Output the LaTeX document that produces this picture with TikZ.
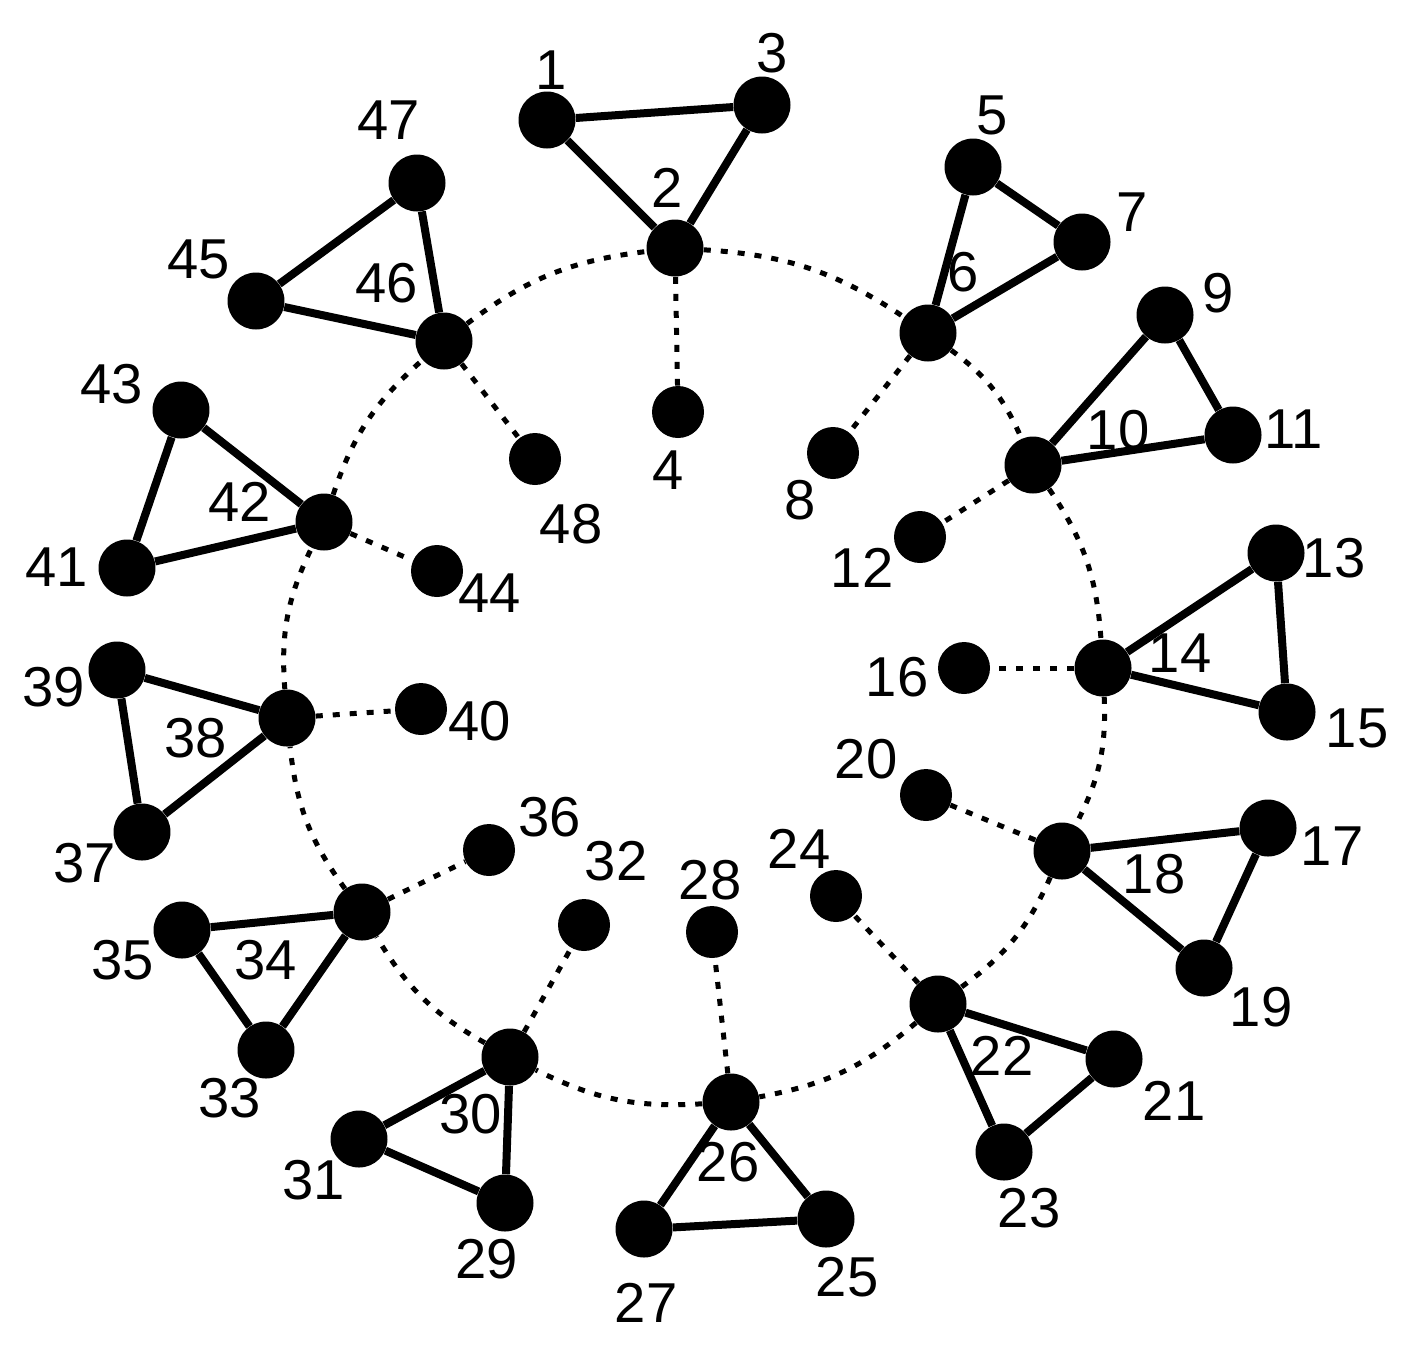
\documentclass[tikz,border=0pt]{standalone}
\usepackage{fontspec}
\setmainfont{Liberation Sans}

\begin{document}
\begin{tikzpicture}
  [x=0.02cm,y=-0.02cm,
   bigN/.style={circle,fill=black,inner sep=0pt,minimum size=1.14cm},
   smallN/.style={circle,fill=black,inner sep=0pt,minimum size=1.04cm},
   numL/.style={inner sep=0pt,font=\fontsize{32}{38}\selectfont},
   triE/.style={line width=0.16cm},
   dotE/.style={line width=0.1cm,dash pattern=on 0.14cm off 0.2cm}]

  \useasboundingbox (0,0) rectangle (1405,1367);

  % hubs on the ring
  \node[bigN] (n2)  at (675,248)  {};
  \node[bigN] (n6)  at (928,333)  {};
  \node[bigN] (n10) at (1033,465) {};
  \node[bigN] (n14) at (1103,668) {};
  \node[bigN] (n18) at (1062,851) {};
  \node[bigN] (n22) at (938,1004) {};
  \node[bigN] (n26) at (731,1102) {};
  \node[bigN] (n30) at (510,1057) {};
  \node[bigN] (n34) at (362,912)  {};
  \node[bigN] (n38) at (287,718)  {};
  \node[bigN] (n42) at (324,522)  {};
  \node[bigN] (n46) at (444,341)  {};

  % outer corners
  \node[bigN] (n1)  at (547,120)  {};
  \node[bigN] (n3)  at (762,105)  {};
  \node[bigN] (n5)  at (973,167)  {};
  \node[bigN] (n7)  at (1082,242) {};
  \node[bigN] (n9)  at (1165,315) {};
  \node[bigN] (n11) at (1233,435) {};
  \node[bigN] (n13) at (1276,553) {};
  \node[bigN] (n15) at (1287,712) {};
  \node[bigN] (n17) at (1268,828) {};
  \node[bigN] (n19) at (1204,968) {};
  \node[bigN] (n21) at (1114,1059) {};
  \node[bigN] (n23) at (1004,1152) {};
  \node[bigN] (n25) at (826,1219) {};
  \node[bigN] (n27) at (644,1229) {};
  \node[bigN] (n29) at (505,1203) {};
  \node[bigN] (n31) at (359,1139) {};
  \node[bigN] (n33) at (266,1050) {};
  \node[bigN] (n35) at (182,930)  {};
  \node[bigN] (n37) at (142,832)  {};
  \node[bigN] (n39) at (117,670)  {};
  \node[bigN] (n41) at (127,568)  {};
  \node[bigN] (n43) at (181,410)  {};
  \node[bigN] (n45) at (256,301)  {};
  \node[bigN] (n47) at (417,183)  {};

  % inner ones
  \node[smallN] (n4)  at (678,412) {};
  \node[smallN] (n8)  at (833,453) {};
  \node[smallN] (n12) at (920,537) {};
  \node[smallN] (n16) at (964,668) {};
  \node[smallN] (n20) at (926,795) {};
  \node[smallN] (n24) at (836,896) {};
  \node[smallN] (n28) at (712,932) {};
  \node[smallN] (n32) at (584,925) {};
  \node[smallN] (n36) at (489,850) {};
  \node[smallN] (n40) at (421,709) {};
  \node[smallN] (n44) at (437,571) {};
  \node[smallN] (n48) at (535,459) {};

  % numbers
  \node[numL] (l1)  at (551,70)   {1};
  \node[numL] (l2)  at (667,188)  {2};
  \node[numL] (l3)  at (772,53)   {3};
  \node[numL] (l4)  at (668,470)  {4};
  \node[numL] (l5)  at (992,115)  {5};
  \node[numL] (l6)  at (963,272)  {6};
  \node[numL] (l7)  at (1132,212) {7};
  \node[numL] (l8)  at (800,500)  {8};
  \node[numL] (l9)  at (1218,293) {9};
  \node[numL] (l10) at (1118,430) {10};
  \node[numL] (l11) at (1294,429) {11};
  \node[numL] (l12) at (862,568)  {12};
  \node[numL] (l13) at (1334,558) {13};
  \node[numL] (l14) at (1180,653) {14};
  \node[numL] (l15) at (1357,728) {15};
  \node[numL] (l16) at (897,677)  {16};
  \node[numL] (l17) at (1332,846) {17};
  \node[numL] (l18) at (1154,874) {18};
  \node[numL] (l19) at (1261,1007) {19};
  \node[numL] (l20) at (866,759)  {20};
  \node[numL] (l21) at (1174,1101) {21};
  \node[numL] (l22) at (1002,1056) {22};
  \node[numL] (l23) at (1029,1208) {23};
  \node[numL] (l24) at (799,849)  {24};
  \node[numL] (l25) at (847,1277) {25};
  \node[numL] (l26) at (728,1162) {26};
  \node[numL] (l27) at (646,1303) {27};
  \node[numL] (l28) at (710,880)  {28};
  \node[numL] (l29) at (487,1259) {29};
  \node[numL] (l30) at (471,1114) {30};
  \node[numL] (l31) at (314,1180) {31};
  \node[numL] (l32) at (616,861)  {32};
  \node[numL] (l33) at (230,1098) {33};
  \node[numL] (l34) at (266,960)  {34};
  \node[numL] (l35) at (123,960)  {35};
  \node[numL] (l36) at (550,817)  {36};
  \node[numL] (l37) at (85,863)   {37};
  \node[numL] (l38) at (196,738)  {38};
  \node[numL] (l39) at (54,687)   {39};
  \node[numL] (l40) at (480,721)  {40};
  \node[numL] (l41) at (57,567)   {41};
  \node[numL] (l42) at (240,502)  {42};
  \node[numL] (l43) at (112,384)  {43};
  \node[numL] (l44) at (490,593)  {44};
  \node[numL] (l45) at (199,259)  {45};
  \node[numL] (l46) at (387,283)  {46};
  \node[numL] (l47) at (389,120)  {47};
  \node[numL] (l48) at (571,524)  {48};

  \draw [triE] (n1) -- (n2) -- (n3) -- (n1);
  \draw [triE] (n5) -- (n6) -- (n7) -- (n5);
  \draw [triE] (n9) -- (n10) -- (n11) -- (n9);
  \draw [triE] (n13) -- (n14) -- (n15) -- (n13);
  \draw [triE] (n17) -- (n18) -- (n19) -- (n17);
  \draw [triE] (n21) -- (n22) -- (n23) -- (n21);
  \draw [triE] (n25) -- (n26) -- (n27) -- (n25);
  \draw [triE] (n29) -- (n30) -- (n31) -- (n29);
  \draw [triE] (n33) -- (n34) -- (n35) -- (n33);
  \draw [triE] (n37) -- (n38) -- (n39) -- (n37);
  \draw [triE] (n41) -- (n42) -- (n43) -- (n41);
  \draw [triE] (n45) -- (n46) -- (n47) -- (n45);

  \draw [dotE] (n2) -- (n4);
  \draw [dotE] (n6) -- (n8);
  \draw [dotE] (n10) -- (n12);
  \draw [dotE] (n14) -- (n16);
  \draw [dotE] (n18) -- (n20);
  \draw [dotE] (n22) -- (n24);
  \draw [dotE] (n26) -- (n28);
  \draw [dotE] (n30) -- (n32);
  \draw [dotE] (n34) -- (n36);
  \draw [dotE] (n38) -- (n40);
  \draw [dotE] (n42) -- (n44);
  \draw [dotE] (n46) -- (n48);

  \draw [dotE] (n2) to[bend left=15] (n6);
  \draw [dotE] (n6) to[bend left=15] (n10);
  \draw [dotE] (n10) to[bend left=15] (n14);
  \draw [dotE] (n14) to[bend left=15] (n18);
  \draw [dotE] (n18) to[bend left=15] (n22);
  \draw [dotE] (n22) to[bend left=15] (n26);
  \draw [dotE] (n26) to[bend left=15] (n30);
  \draw [dotE] (n30) to[bend left=15] (n34);
  \draw [dotE] (n34) to[bend left=15] (n38);
  \draw [dotE] (n38) to[bend left=15] (n42);
  \draw [dotE] (n42) to[bend left=15] (n46);
  \draw [dotE] (n46) to[bend left=15] (n2);
\end{tikzpicture}
\end{document}
